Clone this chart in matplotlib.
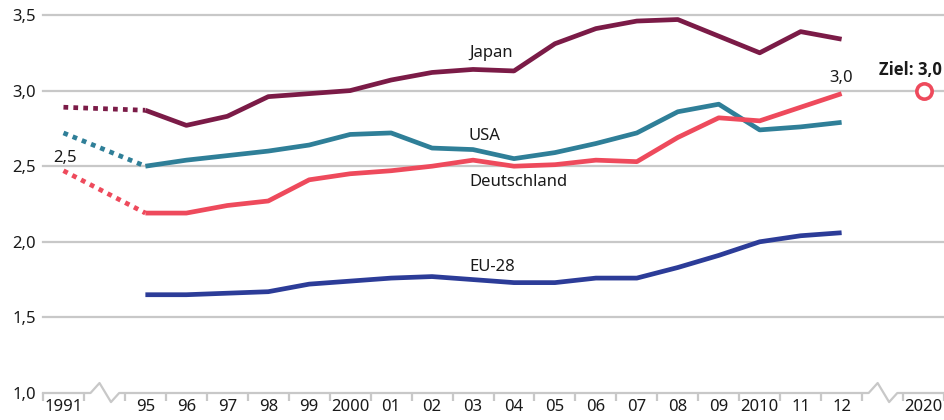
import numpy as np
import matplotlib.pyplot as plt

# -- Data (R&D spending, % of GDP)

years  = ['1991', '95', '96', '97', '98', '99', '2000', '01', '02', '03', '04',
          '05', '06', '07', '08', '09', '2010', '11', '12', '2020']
pos    = [0] + list(range(2, 20)) + [21]   # gaps for axis breaks at 1 and 20

japan  = [2.89, 2.87, 2.77, 2.83, 2.96, 2.98, 3.00, 3.07, 3.12, 3.14, 3.13,
          3.31, 3.41, 3.46, 3.47, 3.36, 3.25, 3.39, 3.34]
usa    = [2.72, 2.50, 2.54, 2.57, 2.60, 2.64, 2.71, 2.72, 2.62, 2.61, 2.55,
          2.59, 2.65, 2.72, 2.86, 2.91, 2.74, 2.76, 2.79]
germany = [2.47, 2.19, 2.19, 2.24, 2.27, 2.41, 2.45, 2.47, 2.50, 2.54, 2.50,
           2.51, 2.54, 2.53, 2.69, 2.82, 2.80, 2.89, 2.98]
eu28   = [1.65, 1.65, 1.66, 1.67, 1.72, 1.74, 1.76, 1.77, 1.75, 1.73,
          1.73, 1.76, 1.76, 1.83, 1.91, 2.00, 2.04, 2.06]
target = 3.0

# -- Style

plt.rcParams['font.family'] = ['Noto Sans', 'DejaVu Sans']
grey = '#c8c8c8'
txt = '#1a1a1a'
c_jp, c_us, c_de, c_eu = '#7b1b47', '#2f7f98', '#ee4a5c', '#2c3c98'
lw = 3.4

fig = plt.figure(figsize=(9.44, 4.2), dpi=100)
ax = fig.add_axes([43 / 944, 27 / 420, 1 - 43 / 944, 378 / 420])
ax.set_xlim(-0.5, 21.5)
ax.set_ylim(1.0, 3.5)
for s in ax.spines.values():
    s.set_visible(False)

# grid
for yv in [1.5, 2.0, 2.5, 3.0, 3.5]:
    ax.plot([-0.5, 21.5], [yv, yv], color=grey, lw=1.6, zorder=1, clip_on=False)

# baseline with axis breaks
def zig(c):
    return ([c - 0.34, c - 0.12, c + 0.16, c + 0.36], [1.0, 1.066, 0.94, 1.0])

bx, by = [-0.5], [1.0]
for c in (1, 20):
    zx, zy = zig(c)
    bx += zx
    by += zy
bx.append(21.5)
by.append(1.0)
ax.plot(bx, by, color=grey, lw=1.6, zorder=1, clip_on=False)

# series: dotted part 1991-95, solid from 95 on
xs = pos[:19]
for ser, col in [(japan, c_jp), (usa, c_us), (germany, c_de)]:
    ax.plot(xs[:2], ser[:2], color=col, lw=lw, ls=(0, (1, 1.1)),
            dash_capstyle='butt', zorder=3)
    ax.plot(xs[1:], ser[1:], color=col, lw=lw, solid_capstyle='butt',
            solid_joinstyle='round', zorder=3)
ax.plot(pos[1:19], eu28, color=c_eu, lw=lw, solid_capstyle='butt',
        solid_joinstyle='round', zorder=3)

# target
ax.plot([pos[-1]], [target], 'o', ms=11, mfc='white', mec=c_de, mew=2.6,
        zorder=4, clip_on=False)

# labels
fs = 12
ax.text(9.9, 3.25, 'Japan', fontsize=fs, color=txt, ha='left', va='center')
ax.text(9.9, 2.70, 'USA', fontsize=fs, color=txt, ha='left', va='center')
ax.text(9.9, 2.395, 'Deutschland', fontsize=fs, color=txt, ha='left', va='center')
ax.text(9.9, 1.833, 'EU-28', fontsize=fs, color=txt, ha='left', va='center')
ax.text(0.04, 2.554, '2,5', fontsize=fs, color=txt, ha='center', va='center')
ax.text(19.0, 3.083, '3,0', fontsize=fs, color=txt, ha='center', va='center')
ax.text(21.45, 3.136, 'Ziel: 3,0', fontsize=fs, color=txt, ha='right',
        va='center', fontweight='bold', family=['Open Sans', 'DejaVu Sans'])

# ticks
ax.set_xticks(pos)
ax.set_xticklabels(years, fontsize=fs, color=txt)
ax.set_xticks(np.arange(-0.5, 22, 1), minor=True)
ax.tick_params(axis='x', which='major', length=0, pad=4)
ax.tick_params(axis='x', which='minor', length=6, width=1.6, color=grey,
               direction='out')
ax.set_yticks([1.0, 1.5, 2.0, 2.5, 3.0, 3.5])
ax.set_yticklabels(['1,0', '1,5', '2,0', '2,5', '3,0', '3,5'], fontsize=fs,
                   color=txt)
ax.tick_params(axis='y', length=0, pad=5)

fig.savefig('out.png', dpi=100)
